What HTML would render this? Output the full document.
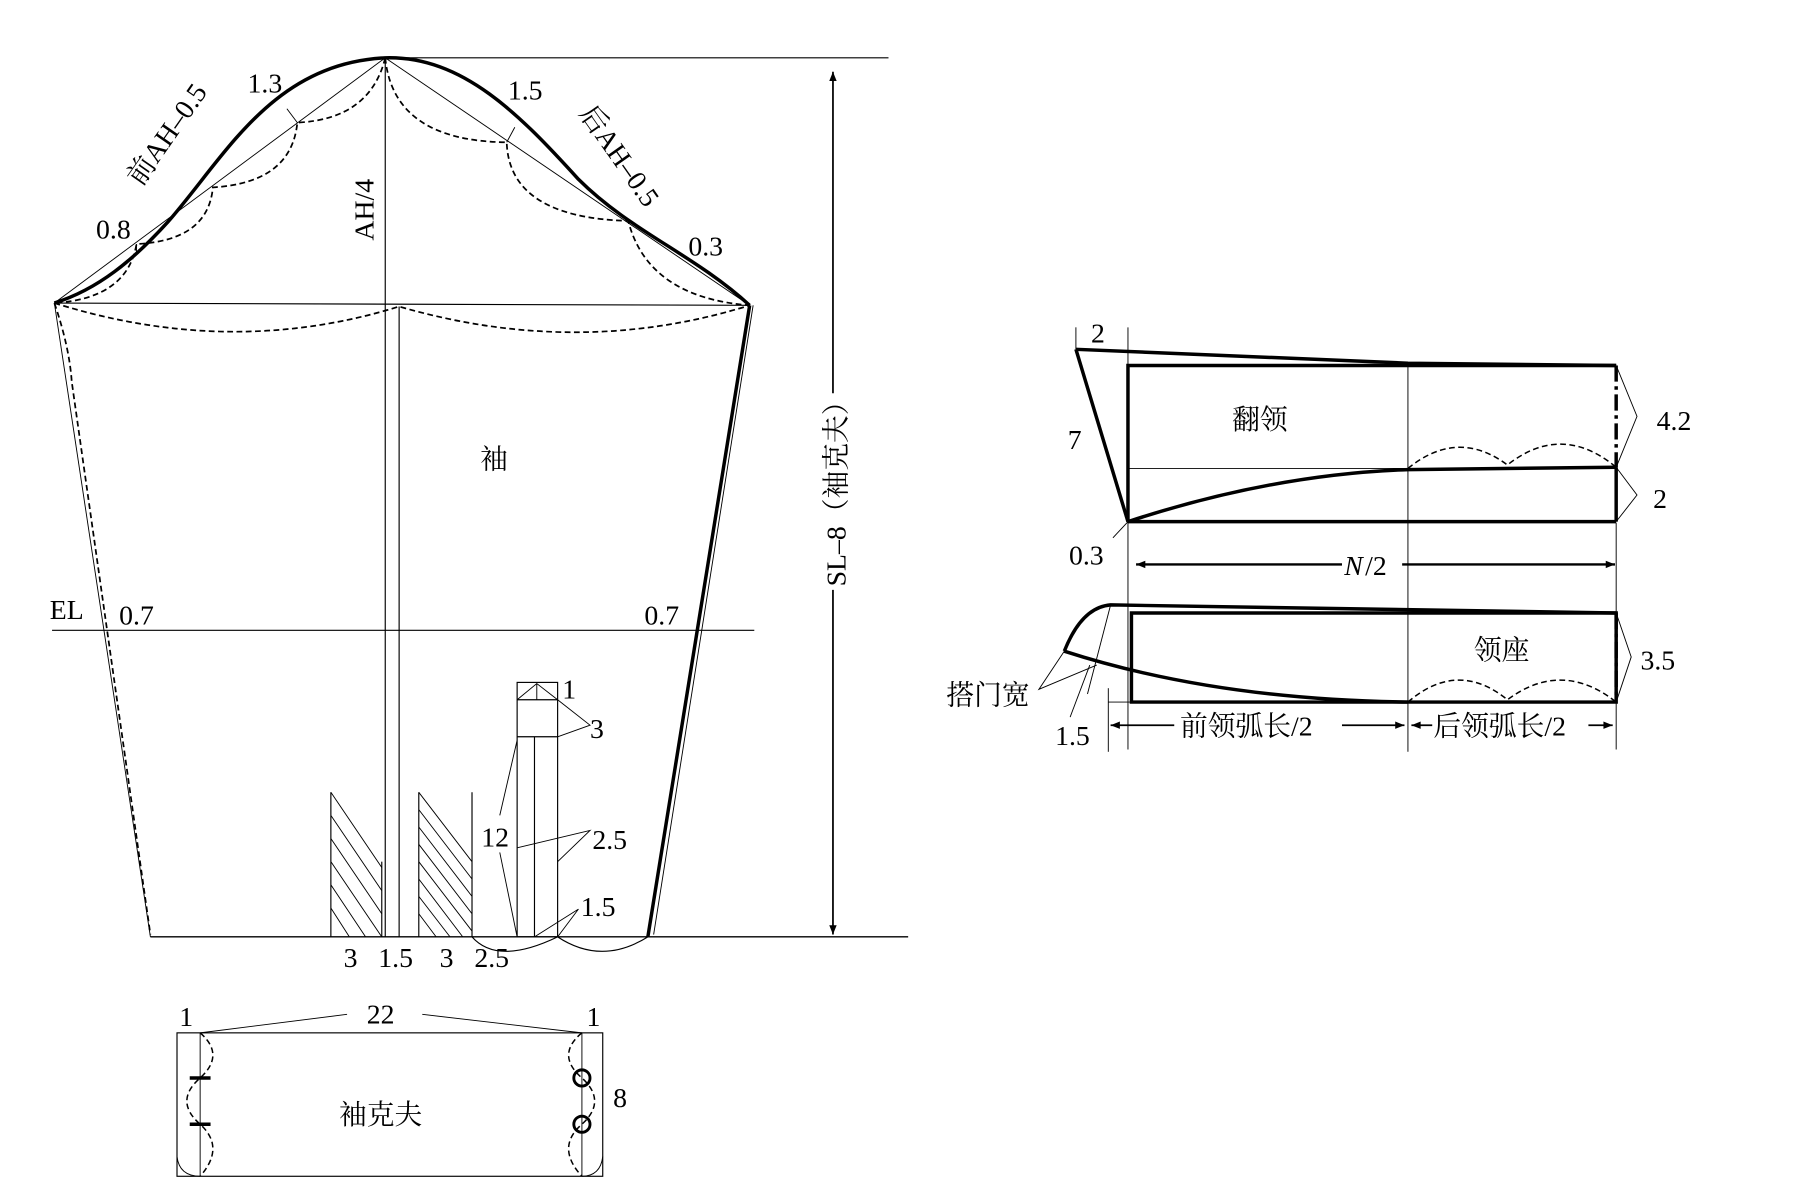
<!DOCTYPE html>
<html><head><meta charset="utf-8"><style>
html,body{margin:0;padding:0;background:#fff}
svg{display:block}
text{font-family:"Liberation Serif","Times New Roman","Noto Serif CJK SC",serif;fill:#000}
</style></head><body>
<svg width="1814" height="1189" viewBox="0 0 1568 1028" preserveAspectRatio="none" xmlns="http://www.w3.org/2000/svg">
<defs>
<marker id="ah" viewBox="0 0 10 10" refX="10" refY="5" markerWidth="14" markerHeight="8" orient="auto-start-reverse" markerUnits="userSpaceOnUse"><path d="M0,1 L10,5 L0,9 Z" fill="#000"/></marker>
</defs>
<g fill="none" stroke="#000">
<line x1="333" y1="50" x2="768" y2="50" stroke-width="1"/>
<line x1="47" y1="262" x2="648" y2="264" stroke-width="1"/>
<line x1="333" y1="50" x2="47" y2="262" stroke-width="0.8"/>
<line x1="333" y1="50" x2="648" y2="264" stroke-width="0.8"/>
<line x1="333" y1="50" x2="333" y2="810" stroke-width="1"/>
<line x1="345" y1="265" x2="345" y2="810" stroke-width="1"/>
<path d="M47,262 C85,250 115,225 145,192 C195,135 235,55 333,50 C400,48 450,100 500,155 C545,200 600,220 648,264" stroke-width="3"/>
<path d="M47,262 Q200,310 345,265 Q500,310 648,264" stroke-width="1.5" stroke-dasharray="5,3"/>
<path d="M333,50 Q320,103 257,106 Q252,158 184,162 Q180,208 118,211 Q110,258 47,262" stroke-width="1.5" stroke-dasharray="5,3"/>
<path d="M333,50 Q340,122 438,123 Q440,188 543,191 Q560,257 648,264" stroke-width="1.5" stroke-dasharray="5,3"/>
<line x1="257" y1="106" x2="248" y2="94" stroke-width="0.8"/>
<line x1="438" y1="123" x2="445" y2="110" stroke-width="0.8"/>
<line x1="118" y1="211" x2="118" y2="220" stroke-width="0.8"/>
<line x1="47" y1="262" x2="130" y2="810" stroke-width="0.8"/>
<path d="M47,262 Q60,300 62,330 L130,808" stroke-width="1.5" stroke-dasharray="5,3"/>
<line x1="648" y1="264" x2="560" y2="810" stroke-width="3"/>
<line x1="651" y1="264" x2="565" y2="808" stroke-width="0.8"/>
<line x1="130" y1="810" x2="785" y2="810" stroke-width="1.2"/>
<line x1="45" y1="545" x2="652" y2="545" stroke-width="1"/>
<line x1="720" y1="62" x2="720" y2="340" stroke-width="1.5" marker-start="url(#ah)"/>
<line x1="720" y1="510" x2="720" y2="808" stroke-width="1.5" marker-end="url(#ah)"/>
<path d="M482,810 Q520,835 560,810" stroke-width="1"/>
<path d="M408,810 Q430,835 482,810" stroke-width="1"/>
<rect x="447" y="590" width="35" height="220" stroke-width="1"/>
<line x1="447" y1="605" x2="482" y2="605" stroke-width="1"/>
<line x1="447" y1="637" x2="482" y2="637" stroke-width="1"/>
<line x1="462" y1="637" x2="462" y2="810" stroke-width="1"/>
<path d="M447,605 L464,591 L482,605 M464,591 L464,605" stroke-width="0.8"/>
<path d="M482,605 L510,627 L482,637" stroke-width="0.8"/>
<path d="M447,640 L432,705 M432,737 L447,810" stroke-width="0.8"/>
<path d="M447,733 L510,718 L482,745" stroke-width="0.8"/>
<path d="M462,810 L500,786 L482,810" stroke-width="0.8"/>
<line x1="286" y1="685" x2="286" y2="810" stroke-width="1"/>
<line x1="330" y1="745" x2="330" y2="810" stroke-width="1"/>
<line x1="362" y1="685" x2="362" y2="810" stroke-width="1"/>
<line x1="408" y1="685" x2="408" y2="810" stroke-width="1"/>
<path d="M286,685 L330,750 M286,705 L330,770 M286,725 L330,790 M286,745 L330,810 M286,765 L316,810 M286,785 L302,810" stroke-width="0.8"/>
<path d="M362,685 L408,745 M362,700 L408,760 M362,715 L408,775 M362,730 L408,790 M362,745 L408,805 M362,760 L400,810 M362,775 L389,810 M362,790 L377,810" stroke-width="0.8"/>
<rect x="153" y="893" width="368" height="124" stroke-width="1"/>
<line x1="173" y1="893" x2="173" y2="1017" stroke-width="0.8"/>
<line x1="503" y1="893" x2="503" y2="1017" stroke-width="0.8"/>
<line x1="173" y1="893" x2="300" y2="877" stroke-width="0.8"/>
<line x1="365" y1="877" x2="503" y2="893" stroke-width="0.8"/>
<path d="M173,893 Q195,912 173,932 Q150,952 173,972 Q195,992 173,1017" stroke-width="1.3" stroke-dasharray="5,3"/>
<path d="M503,893 Q480,912 503,932 Q525,952 503,972 Q480,992 503,1017" stroke-width="1.3" stroke-dasharray="5,3"/>
<path d="M153,1000 Q155,1017 173,1017 M521,1000 Q519,1017 503,1017" stroke-width="0.8"/>
<path d="M164,932 L182,932 M164,972 L182,972" stroke-width="3"/>
<circle cx="503" cy="932" r="7" stroke-width="2.5"/>
<circle cx="503" cy="972" r="7" stroke-width="2.5"/>
<line x1="930" y1="283" x2="930" y2="302" stroke-width="0.8"/>
<line x1="975" y1="283" x2="975" y2="648" stroke-width="0.8"/>
<line x1="1217" y1="316" x2="1217" y2="650" stroke-width="0.8"/>
<line x1="1397" y1="452" x2="1397" y2="648" stroke-width="0.8"/>
<line x1="958" y1="595" x2="958" y2="650" stroke-width="0.8"/>
<path d="M930,302 L1217,314 L1397,316" stroke-width="3"/>
<path d="M930,302 L975,451" stroke-width="3"/>
<path d="M975,451 L975,316 L1397,316" stroke-width="3"/>
<line x1="975" y1="451" x2="1397" y2="451" stroke-width="3"/>
<line x1="975" y1="405" x2="1217" y2="405" stroke-width="0.8"/>
<path d="M975,451 Q1100,410 1217,406 L1397,404" stroke-width="3"/>
<line x1="1397" y1="316" x2="1397" y2="404" stroke-width="3" stroke-dasharray="14,4,3,4"/>
<line x1="1397" y1="404" x2="1397" y2="451" stroke-width="3"/>
<path d="M1217,405 Q1260,370 1303,402 Q1350,365 1397,404" stroke-width="1.3" stroke-dasharray="5,3"/>
<path d="M1397,316 L1415,360 L1397,404 M1397,404 L1415,428 L1397,451" stroke-width="0.8"/>
<line x1="975" y1="451" x2="962" y2="465" stroke-width="0.8"/>
<line x1="982" y1="488" x2="1160" y2="488" stroke-width="2" marker-start="url(#ah)"/>
<line x1="1212" y1="488" x2="1396" y2="488" stroke-width="2" marker-end="url(#ah)"/>
<path d="M920,563 Q935,525 960,523 L1397,530" stroke-width="3"/>
<path d="M978,530 L1397,530 L1397,607 L978,607 Z" stroke-width="3"/>
<path d="M920,563 Q1050,605 1217,607" stroke-width="3"/>
<line x1="1397" y1="530" x2="1397" y2="605" stroke-width="3" stroke-dasharray="14,4,3,4"/>
<path d="M1217,607 Q1260,570 1303,605 Q1350,570 1397,607" stroke-width="1.3" stroke-dasharray="5,3"/>
<path d="M1397,530 L1410,568 L1397,607" stroke-width="0.8"/>
<line x1="960" y1="523" x2="940" y2="600" stroke-width="0.8"/>
<path d="M920,563 L898,596 L948,575" stroke-width="0.8"/>
<path d="M942,575 L925,620" stroke-width="0.8"/>
<line x1="958" y1="607" x2="978" y2="607" stroke-width="0.8"/>
<line x1="960" y1="627" x2="1015" y2="627" stroke-width="1.5" marker-start="url(#ah)"/>
<line x1="1160" y1="627" x2="1214" y2="627" stroke-width="1.5" marker-end="url(#ah)"/>
<line x1="1220" y1="627" x2="1238" y2="627" stroke-width="1.5" marker-start="url(#ah)"/>
<line x1="1373" y1="627" x2="1394" y2="627" stroke-width="1.5" marker-end="url(#ah)"/>
</g>
<g font-size="24">
<text x="214" y="80">1.3</text>
<text x="439" y="86">1.5</text>
<text x="83" y="206">0.8</text>
<text x="595" y="221">0.3</text>
<text transform="translate(122,162) rotate(-55)">前AH–0.5</text>
<text transform="translate(500,98) rotate(55)">后AH–0.5</text>
<text transform="translate(323,208) rotate(-90)">AH/4</text>
<text x="415" y="405">袖</text>
<text x="43" y="535">EL</text>
<text x="103" y="540">0.7</text>
<text x="557" y="540">0.7</text>
<text transform="translate(731,507) rotate(-90)">SL–8（袖克夫）</text>
<text x="486" y="604">1</text>
<text x="510" y="638">3</text>
<text x="416" y="732">12</text>
<text x="512" y="734">2.5</text>
<text x="502" y="792">1.5</text>
<text x="297" y="836">3</text>
<text x="327" y="836">1.5</text>
<text x="380" y="836">3</text>
<text x="410" y="836">2.5</text>
<text x="155" y="887">1</text>
<text x="317" y="885">22</text>
<text x="507" y="887">1</text>
<text x="530" y="957">8</text>
<text x="293" y="972">袖克夫</text>
<text x="943" y="296">2</text>
<text x="923" y="388">7</text>
<text x="1065" y="371">翻领</text>
<text x="1432" y="372">4.2</text>
<text x="1429" y="439">2</text>
<text x="924" y="488">0.3</text>
<text x="1162" y="497" font-style="italic">N</text>
<text x="1180" y="497">/2</text>
<text x="1274" y="570">领座</text>
<text x="1418" y="579">3.5</text>
<text x="818" y="609">搭门宽</text>
<text x="912" y="644">1.5</text>
<text x="1020" y="636">前领弧长/2</text>
<text x="1239" y="636">后领弧长/2</text>
</g>
</svg>
</body></html>
